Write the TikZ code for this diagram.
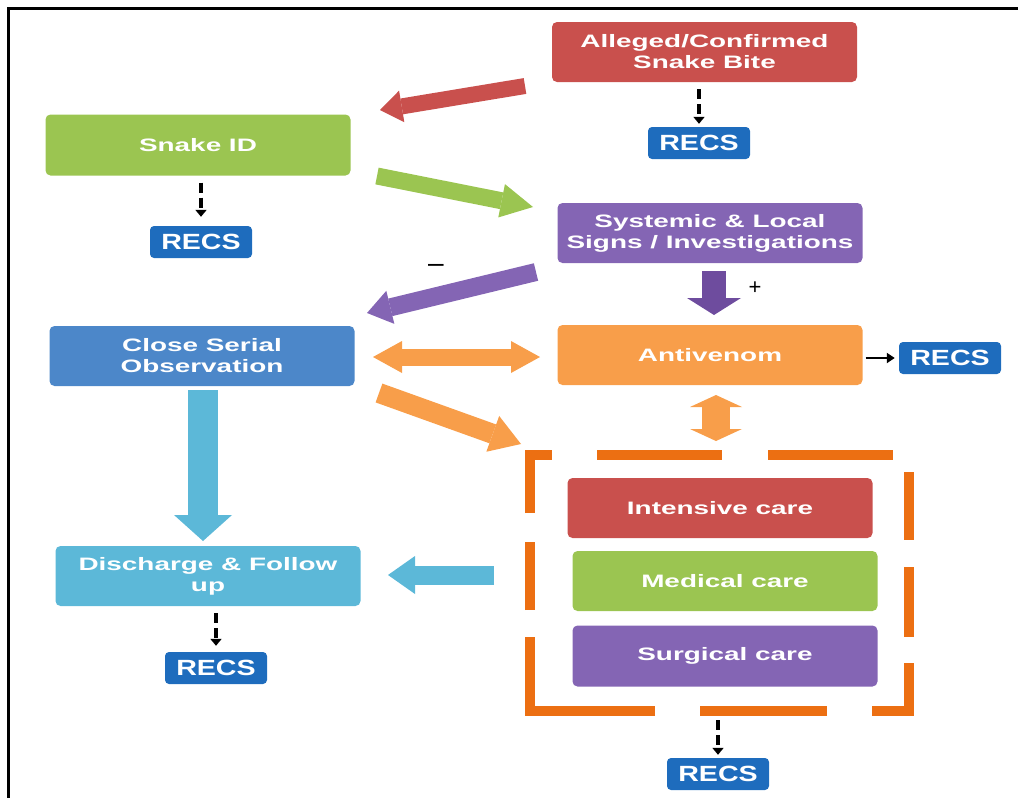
\documentclass[tikz,border=0pt]{standalone}
\usepackage{fontspec}
\setmainfont{Liberation Sans}
\newfontfamily\boxfont{Liberation Sans}[FakeStretch=1.55]
\newfontfamily\recsfont{Liberation Sans}[FakeStretch=1.3]
\usetikzlibrary{arrows.meta,calc}
\definecolor{cred}{HTML}{C9504D}
\definecolor{cgreen}{HTML}{9BC551}
\definecolor{cpurple}{HTML}{8465B4}
\definecolor{cdpurple}{HTML}{6E4C9E}
\definecolor{cblue}{HTML}{4C87C9}
\definecolor{corange}{HTML}{F89E4A}
\definecolor{cdash}{HTML}{EC6F12}
\definecolor{clblue}{HTML}{5CB8D8}
\definecolor{crecs}{HTML}{1E6CBD}
\begin{document}
\begin{tikzpicture}[x=1pt,y=-1pt,
  box/.style={rectangle, rounded corners=5pt, minimum width=305pt, minimum height=60pt,
    inner sep=0pt, text=white, align=center,
    font=\boxfont\bfseries\fontsize{18}{21}\selectfont},
  recs/.style={rectangle, rounded corners=4pt, fill=crecs, minimum width=102pt,
    minimum height=32pt, inner sep=0pt, text=white,
    font=\recsfont\bfseries\fontsize{22}{24}\selectfont},
  dasharrow/.style={draw=black, line width=3.5pt, dash pattern=on 10pt off 5pt,
    -{Triangle[width=11pt,length=7pt]}, shorten <=7pt, shorten >=6pt},
  fat/.style n args={4}{draw=#1, line width=#2,
    -{Triangle[width=#3, length=#4, line width=0pt]}},
  fatd/.style n args={4}{draw=#1, line width=#2,
    {Triangle[width=#3, length=#4, line width=0pt]}-{Triangle[width=#3, length=#4, line width=0pt]}},
  grp/.style={draw=cdash, line width=10pt, line join=miter},
  sign/.style={inner sep=0pt}
]
\useasboundingbox (0,0) rectangle (1018,798);
\draw[line width=3pt] (8,798) -- (8,8) -- (1018,8);

% boxes
\node[box, fill=cred] (bite) at (704.5,52) {Alleged/Confirmed\\Snake Bite};
\node[recs] (recs1) at (699,143) {RECS};
\node[box, fill=cgreen, minimum height=61pt] (snake) at (198,145) {Snake ID};
\node[recs] (recs2) at (201,242) {RECS};
\node[box, fill=cpurple] (sys) at (710,233) {Systemic \& Local\\Signs / Investigations};
\node[box, fill=cblue] (cso) at (202,356) {Close Serial\\Observation};
\node[box, fill=corange] (anti) at (710,355) {Antivenom};
\node[recs] (recs3) at (950,358) {RECS};
\node[box, fill=clblue] (disc) at (208,576) {Discharge \& Follow\\up};
\node[recs] (recs4) at (216,668) {RECS};
\node[box, fill=cred] (icu) at (720,508) {Intensive care};
\node[box, fill=cgreen] (med) at (725,581) {Medical care};
\node[box, fill=cpurple, minimum height=61pt] (surg) at (725,656) {Surgical care};
\node[recs] (recs5) at (718,774) {RECS};

% dashed group frame
\draw[grp] (530,513) -- (530,455) -- (552,455);
\draw[grp] (597,455) -- (722,455);
\draw[grp] (768,455) -- (893,455);
\draw[grp] (909,472) -- (909,540);
\draw[grp] (909,567) -- (909,637);
\draw[grp] (909,663) -- (909,711) -- (872,711);
\draw[grp] (827,711) -- (700,711);
\draw[grp] (655,711) -- (530,711) -- (530,637);
\draw[grp] (530,610) -- (530,542);
\coordinate (grpS) at (718,716);

% dashed arrows to RECS
\draw[dasharrow, shorten >=3pt] (recs1.north |- bite.south) -- (recs1.north);
\draw[dasharrow, shorten >=9pt] (recs2.north |- snake.south) -- (recs2.north);
\draw[dasharrow] (recs4.north |- disc.south) -- (recs4.north);
\draw[dasharrow, shorten <=4pt, shorten >=3pt] (grpS) -- (recs5.north);
\draw[line width=2.5pt, -{Triangle[width=10pt,length=8pt]}, shorten <=3pt, shorten >=4pt]
  (anti.east |- recs3.west) -- (recs3.west);

% block arrows
\coordinate (r1) at (525,86);  \coordinate (r2) at (380,110);
\draw[fat={cred}{16pt}{32pt}{22pt}] (r1) -- (r2);
\coordinate (g1) at (377,176); \coordinate (g2) at (533,207);
\draw[fat={cgreen}{17pt}{34pt}{32pt}] (g1) -- (g2);
\coordinate (p1) at (536,272); \coordinate (p2) at (367,313);
\draw[fat={cpurple}{18pt}{34pt}{24pt}] (p1) -- (p2);
\coordinate (q1) at (714,271); \coordinate (q2) at (714,315);
\draw[fat={cdpurple}{24pt}{54pt}{17pt}] (q1) -- (q2);
\coordinate (o1) at (373,357); \coordinate (o2) at (540,357);
\draw[fatd={corange}{17pt}{32pt}{29pt}] (o1) -- (o2);
\coordinate (d1) at (379,393); \coordinate (d2) at (521,444);
\draw[fat={corange}{20pt}{38pt}{30pt}] (d1) -- (d2);
\coordinate (v1) at (716,395); \coordinate (v2) at (716,441);
\draw[fatd={corange}{28pt}{52pt}{12pt}] (v1) -- (v2);
\coordinate (b1) at (203,390); \coordinate (b2) at (203,541);
\draw[fat={clblue}{30pt}{58pt}{26pt}] (b1) -- (b2);
\coordinate (l1) at (494,575); \coordinate (l2) at (388,575);
\draw[fat={clblue}{19pt}{38pt}{27pt}] (l1) -- (l2);

\node[sign, font=\fontsize{28}{28}\selectfont] (minus) at (436,268) {–};
\node[sign, font=\fontsize{22}{22}\selectfont] (plus) at (755,288) {+};
\end{tikzpicture}
\end{document}
